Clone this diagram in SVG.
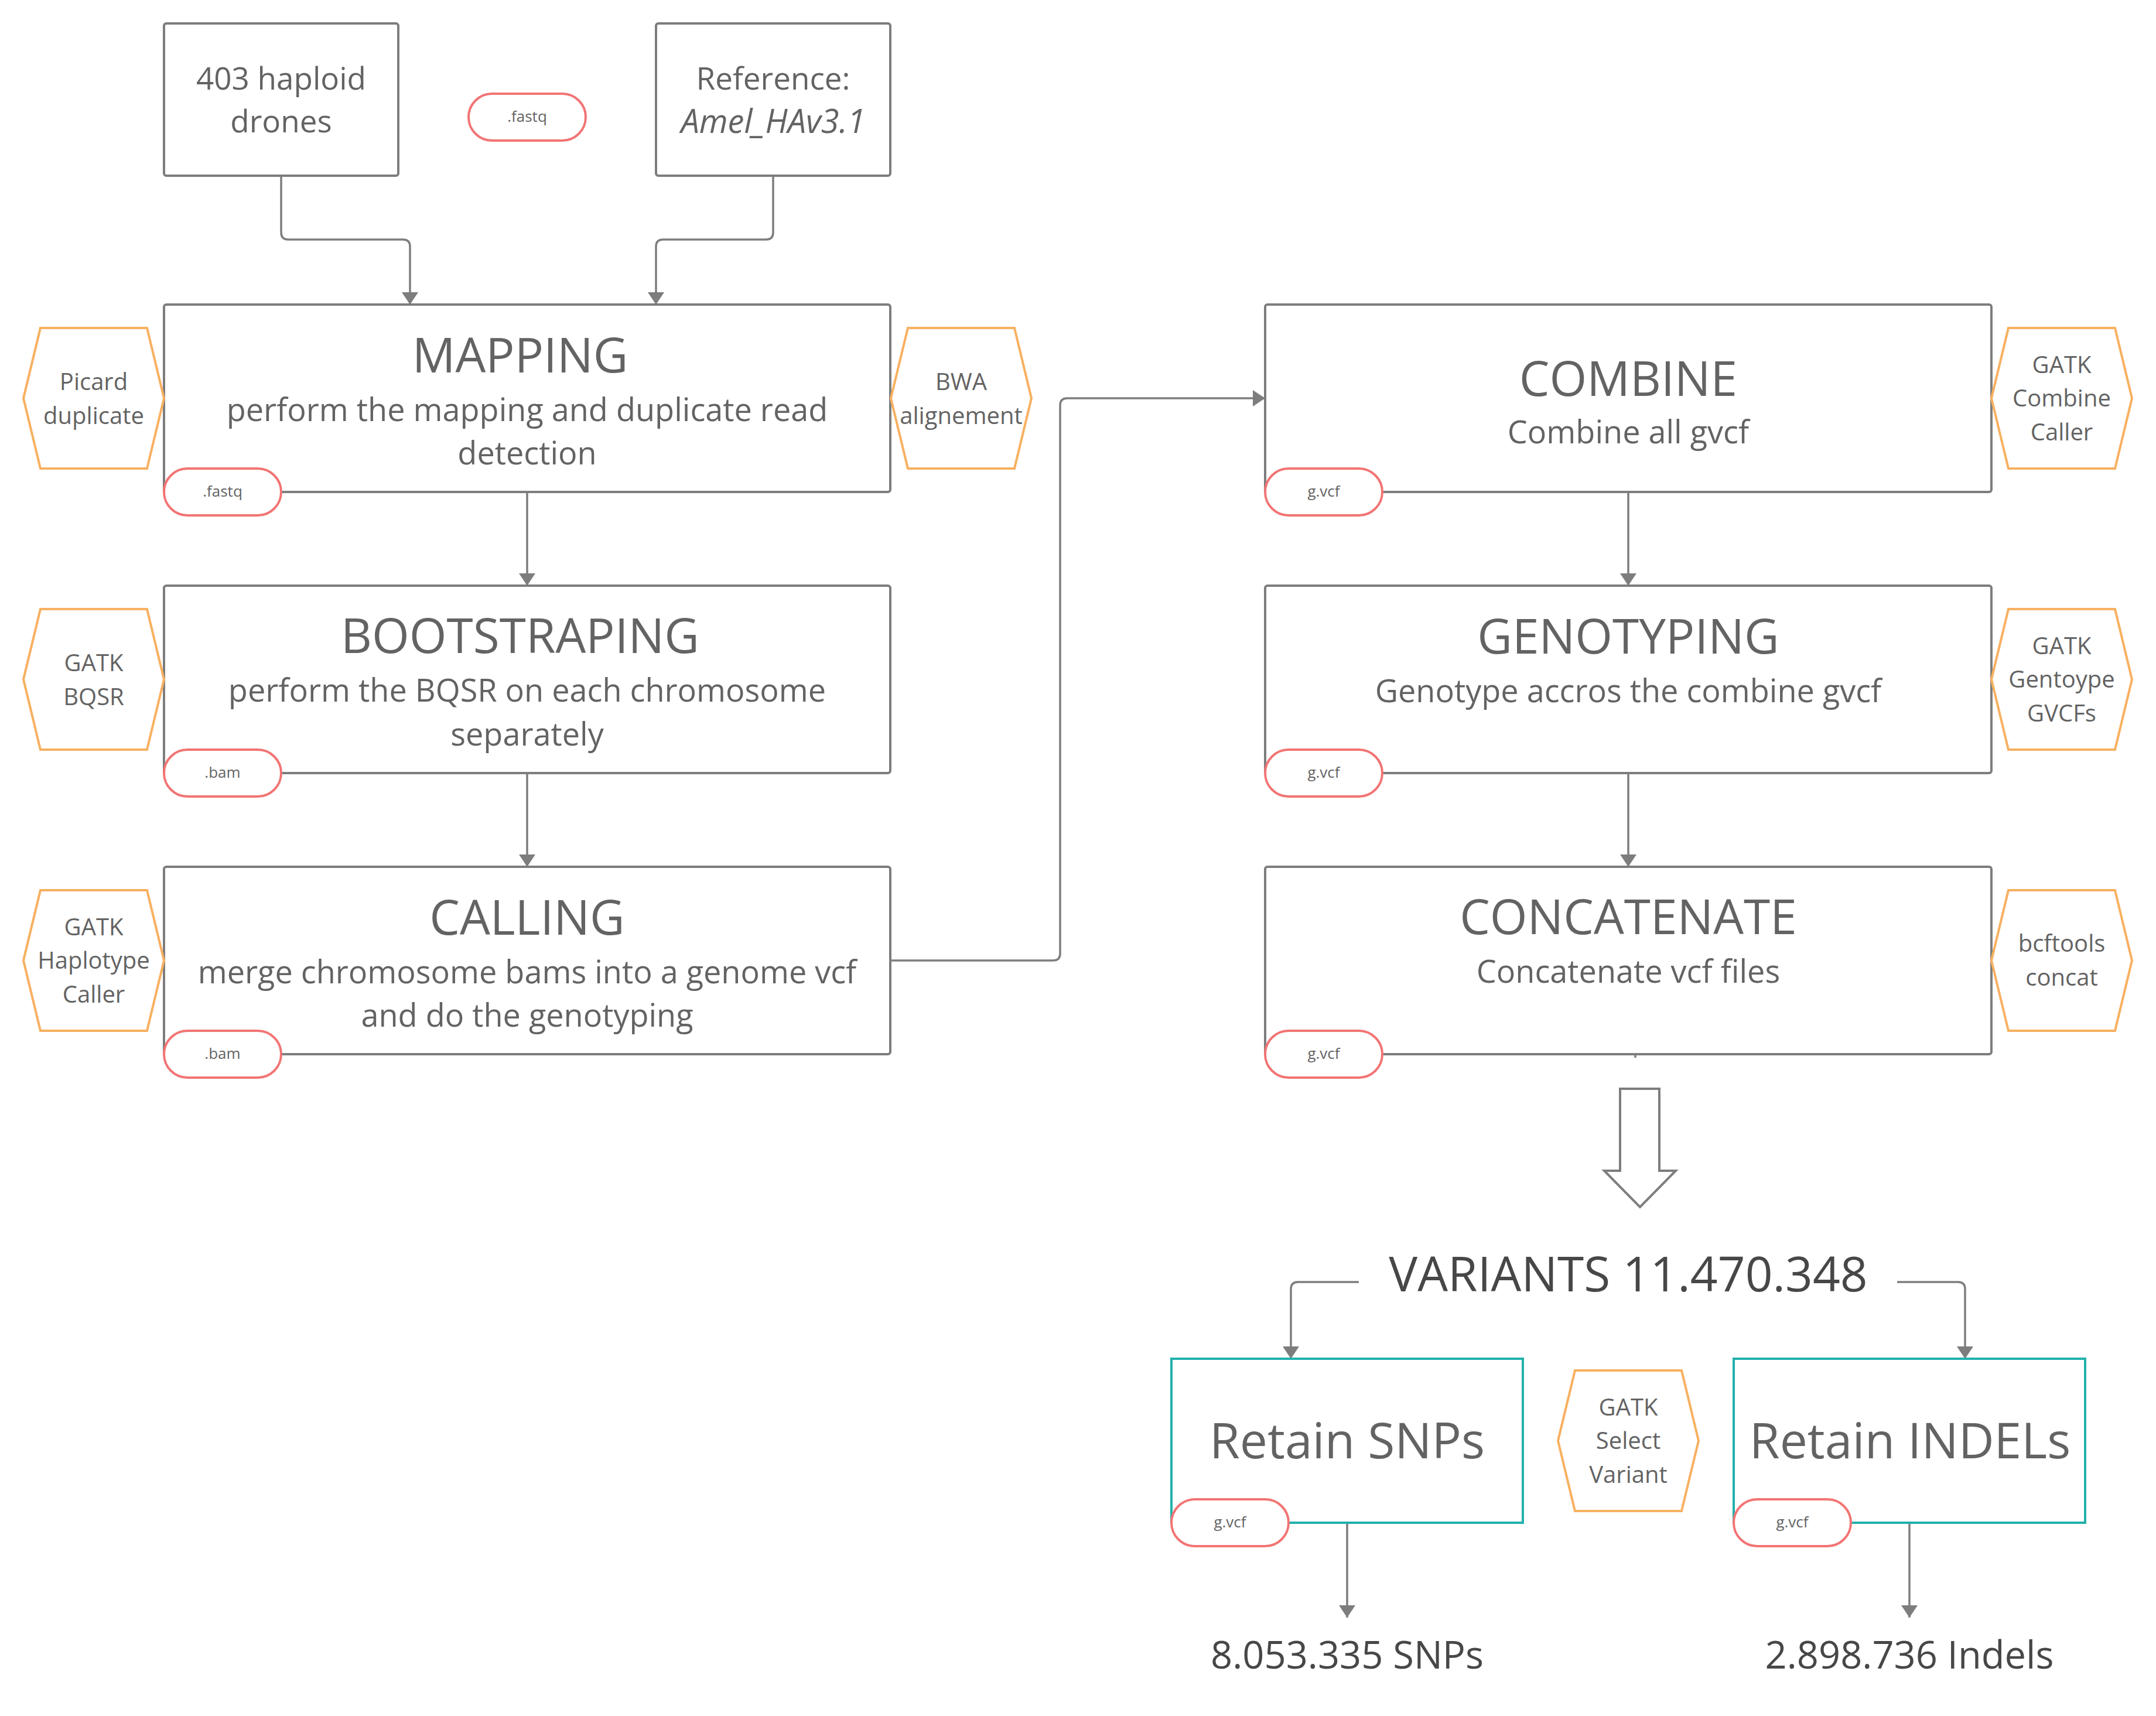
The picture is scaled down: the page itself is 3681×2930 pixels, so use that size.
<svg xmlns="http://www.w3.org/2000/svg" width="3681" height="2930" viewBox="0 0 3681 2930">
<defs>
<style>
text{font-family:"Open Sans","Noto Sans","Liberation Sans",sans-serif;fill:#636363;text-anchor:middle}
.box{fill:#fff;stroke:#7d7d7d;stroke-width:4}
.tbox{fill:#fff;stroke:#22b1ab;stroke-width:4}
.pill{fill:#fff;stroke:#f27474;stroke-width:4}
.hex{fill:#fff;stroke:#f8b060;stroke-width:4}
.conn{fill:none;stroke:#7d7d7d;stroke-width:3.5}
.title{font-size:82px}
.sub{font-size:54px}
.pt{font-size:26px}
.ht{font-size:40px}
.big{font-size:53px}
.dark{fill:#474747}
</style>
<marker id="ah" viewBox="0 0 21 28" refX="21" refY="14" markerWidth="21" markerHeight="28" markerUnits="userSpaceOnUse" orient="auto">
<path d="M0,0 L21,14 L0,28 z" fill="#7d7d7d"/>
</marker>
</defs>
<rect width="3681" height="2930" fill="#fff"/>

<g id="connectors">
<path class="conn" marker-end="url(#ah)" d="M480,300 V397 Q480,409 492,409 H688 Q700,409 700,421 V520"/>
<path class="conn" marker-end="url(#ah)" d="M1320,300 V397 Q1320,409 1308,409 H1132 Q1120,409 1120,421 V520"/>
<path class="conn" marker-end="url(#ah)" d="M900,840 V1000"/>
<path class="conn" marker-end="url(#ah)" d="M900,1320 V1480"/>
<path class="conn" marker-end="url(#ah)" d="M1520,1640 H1798 Q1810,1640 1810,1628 V692 Q1810,680 1822,680 H2160"/>
<path class="conn" marker-end="url(#ah)" d="M2780,840 V1000"/>
<path class="conn" marker-end="url(#ah)" d="M2780,1320 V1480"/>
<path class="conn" d="M2792,1800 V1806"/>
<path class="conn" marker-end="url(#ah)" d="M2320,2189 H2216 Q2204,2189 2204,2201 V2320"/>
<path class="conn" marker-end="url(#ah)" d="M3239,2189 H3343 Q3355,2189 3355,2201 V2320"/>
<path class="conn" marker-end="url(#ah)" d="M2300,2600 V2762"/>
<path class="conn" marker-end="url(#ah)" d="M3260,2600 V2762"/>
<polygon id="big-arrow" points="2766,1859 2833,1859 2833,1999 2861,1999 2800,2061 2739,1999 2766,1999" fill="#fff" stroke="#7d7d7d" stroke-width="4"/>
</g>

<g id="drones">
<rect class="box" x="280" y="40" width="400" height="260" rx="4"/>
<text class="big" x="480" y="153">403 haploid</text>
<text class="big" x="480" y="226">drones</text>
</g>
<g id="fastq-top">
<rect class="pill" x="800" y="160" width="200" height="80" rx="40"/>
<text class="pt" x="900" y="208">.fastq</text>
</g>
<g id="reference">
<rect class="box" x="1120" y="40" width="400" height="260" rx="4"/>
<text class="big" x="1320" y="153">Reference:</text>
<text x="1320" y="227" font-size="56" font-style="italic">Amel_HAv3.1</text>
</g>

<g id="mapping">
<rect class="box" x="280" y="520" width="1240" height="320" rx="4"/>
<text class="title" x="888" y="636">MAPPING</text>
<text class="sub" x="900" y="719">perform the mapping and duplicate read</text>
<text class="sub" x="900" y="793">detection</text>
<rect class="pill" x="280" y="800" width="200" height="80" rx="40"/>
<text class="pt" x="380" y="848">.fastq</text>
</g>
<g id="picard">
<path class="hex" d="M40,680 L69,560 L251,560 L280,680 L251,800 L69,800 Z"/>
<text class="ht" x="160" y="666">Picard</text>
<text class="ht" x="160" y="724">duplicate</text>
</g>
<g id="bwa">
<path class="hex" d="M1521,680 L1550,560 L1732,560 L1761,680 L1732,800 L1550,800 Z"/>
<text class="ht" x="1641" y="666">BWA</text>
<text class="ht" x="1641" y="724">alignement</text>
</g>

<g id="bootstraping">
<rect class="box" x="280" y="1000" width="1240" height="320" rx="4"/>
<text class="title" x="888" y="1115">BOOTSTRAPING</text>
<text class="sub" x="900" y="1198">perform the BQSR on each chromosome</text>
<text class="sub" x="900" y="1273">separately</text>
<rect class="pill" x="280" y="1280" width="200" height="80" rx="40"/>
<text class="pt" x="380" y="1328">.bam</text>
</g>
<g id="bqsr">
<path class="hex" d="M40,1160 L69,1040 L251,1040 L280,1160 L251,1280 L69,1280 Z"/>
<text class="ht" x="160" y="1146">GATK</text>
<text class="ht" x="160" y="1204">BQSR</text>
</g>

<g id="calling">
<rect class="box" x="280" y="1480" width="1240" height="320" rx="4"/>
<text class="title" x="900" y="1596">CALLING</text>
<text class="sub" x="900" y="1679">merge chromosome bams into a genome vcf</text>
<text class="sub" x="900" y="1753">and do the genotyping</text>
<rect class="pill" x="280" y="1760" width="200" height="80" rx="40"/>
<text class="pt" x="380" y="1808">.bam</text>
</g>
<g id="haplotype">
<path class="hex" d="M40,1640 L69,1520 L251,1520 L280,1640 L251,1760 L69,1760 Z"/>
<text class="ht" x="160" y="1597">GATK</text>
<text class="ht" x="160" y="1654">Haplotype</text>
<text class="ht" x="160" y="1712">Caller</text>
</g>

<g id="combine">
<rect class="box" x="2160" y="520" width="1240" height="320" rx="4"/>
<text class="title" x="2780" y="676">COMBINE</text>
<text class="sub" x="2780" y="757">Combine all gvcf</text>
<rect class="pill" x="2160" y="800" width="200" height="80" rx="40"/>
<text class="pt" x="2260" y="848">g.vcf</text>
</g>
<g id="combine-caller">
<path class="hex" d="M3400,680 L3429,560 L3611,560 L3640,680 L3611,800 L3429,800 Z"/>
<text class="ht" x="3520" y="637">GATK</text>
<text class="ht" x="3520" y="694">Combine</text>
<text class="ht" x="3520" y="752">Caller</text>
</g>

<g id="genotyping">
<rect class="box" x="2160" y="1000" width="1240" height="320" rx="4"/>
<text class="title" x="2780" y="1116">GENOTYPING</text>
<text class="sub" x="2780" y="1199">Genotype accros the combine gvcf</text>
<rect class="pill" x="2160" y="1280" width="200" height="80" rx="40"/>
<text class="pt" x="2260" y="1328">g.vcf</text>
</g>
<g id="gentoype-gvcfs">
<path class="hex" d="M3400,1160 L3429,1040 L3611,1040 L3640,1160 L3611,1280 L3429,1280 Z"/>
<text class="ht" x="3520" y="1117">GATK</text>
<text class="ht" x="3520" y="1174">Gentoype</text>
<text class="ht" x="3520" y="1232">GVCFs</text>
</g>

<g id="concatenate">
<rect class="box" x="2160" y="1480" width="1240" height="320" rx="4"/>
<text class="title" x="2780" y="1595">CONCATENATE</text>
<text class="sub" x="2780" y="1678">Concatenate vcf files</text>
<rect class="pill" x="2160" y="1760" width="200" height="80" rx="40"/>
<text class="pt" x="2260" y="1808">g.vcf</text>
</g>
<g id="bcftools">
<path class="hex" d="M3400,1640 L3429,1520 L3611,1520 L3640,1640 L3611,1760 L3429,1760 Z"/>
<text class="ht" x="3520" y="1625">bcftools</text>
<text class="ht" x="3520" y="1683">concat</text>
</g>

<g id="variants">
<text class="dark" x="2780" y="2205" font-size="82">VARIANTS 11.470.348</text>
</g>

<g id="retain-snps">
<rect class="tbox" x="2000" y="2320" width="600" height="280"/>
<text x="2300" y="2490" font-size="84">Retain SNPs</text>
<rect class="pill" x="2000" y="2560" width="200" height="80" rx="40"/>
<text class="pt" x="2100" y="2608">g.vcf</text>
</g>
<g id="select-variant">
<path class="hex" d="M2660,2460 L2689,2340 L2871,2340 L2900,2460 L2871,2580 L2689,2580 Z"/>
<text class="ht" x="2780" y="2417">GATK</text>
<text class="ht" x="2780" y="2474">Select</text>
<text class="ht" x="2780" y="2532">Variant</text>
</g>
<g id="retain-indels">
<rect class="tbox" x="2960" y="2320" width="600" height="280"/>
<text x="3261" y="2490" font-size="84">Retain INDELs</text>
<rect class="pill" x="2960" y="2560" width="200" height="80" rx="40"/>
<text class="pt" x="3060" y="2608">g.vcf</text>
</g>

<g id="snps-count">
<text class="dark" x="2300" y="2849" font-size="65">8.053.335 SNPs</text>
</g>
<g id="indels-count">
<text class="dark" x="3260" y="2849" font-size="65">2.898.736 Indels</text>
</g>
</svg>
